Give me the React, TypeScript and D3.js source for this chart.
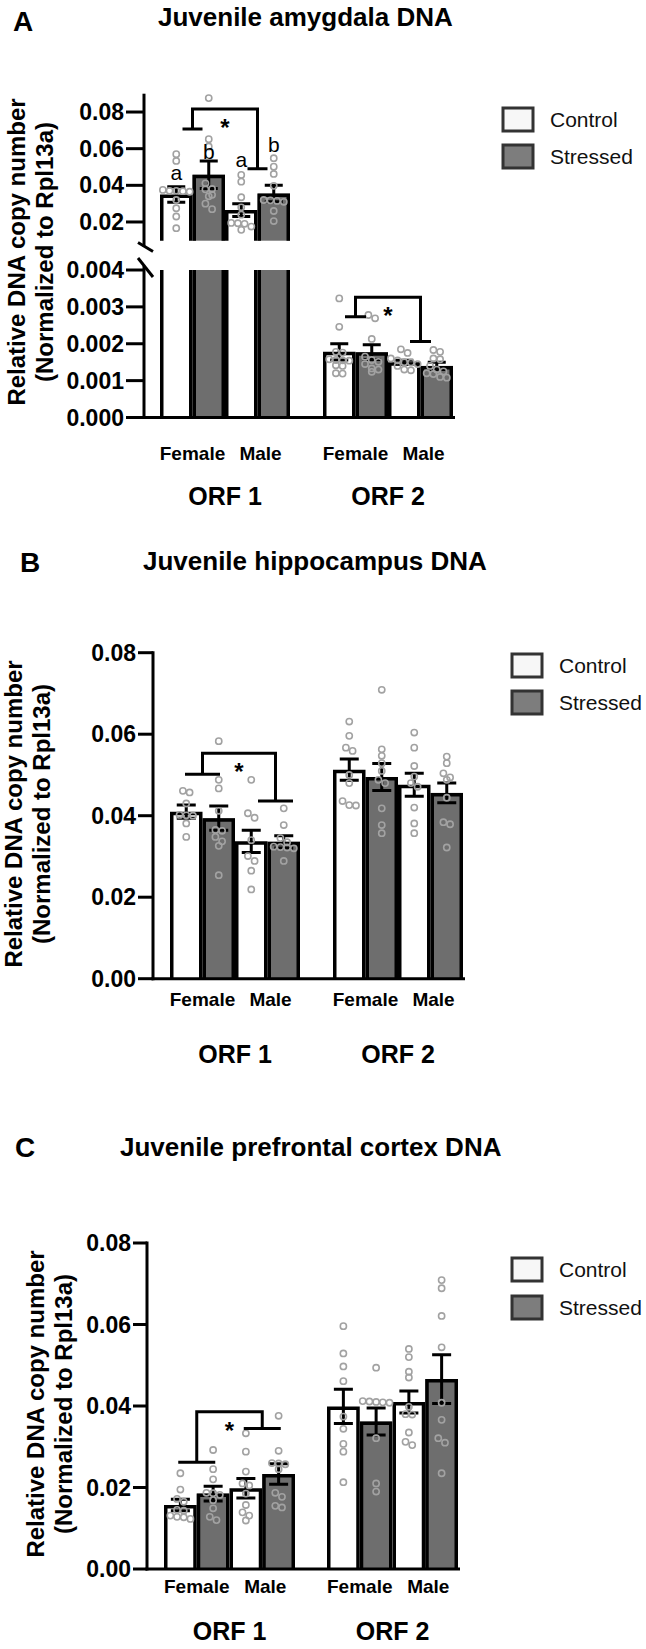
import React from "react";
import * as d3 from "d3";

const FONT = "'Liberation Sans', Arial, Helvetica, sans-serif";

// ---------- shared categories ----------
const orfLabels = ["ORF 1", "ORF 2"];
const sexLabels = ["Female", "Male"];
const conditionLabels = ["Control", "Stressed"];
const barKeys = ["Female-Control", "Female-Stressed", "Male-Control", "Male-Stressed"];
const yAxisTitle = ["Relative DNA copy number", "(Normalized to Rpl13a)"];

// ---------- Panel A: amygdala (order: ORF1 FC, FS, MC, MS, ORF2 FC, FS, MC, MS) ----------
const aTitle = "Juvenile amygdala DNA";
const aMeans = [0.035, 0.0458, 0.0265, 0.0355, 0.00178, 0.00177, 0.0015, 0.0014];
const aSems = [0.0042, 0.0075, 0.0035, 0.0045, 0.00022, 0.0002, 0.00005, 0.0001];
const aPoints = [
  [0.057, 0.0533, 0.0375, 0.037, 0.037, 0.0368, 0.0365, 0.032, 0.0275, 0.023, 0.0166],
  [0.0876, 0.0652, 0.0612, 0.0411, 0.038, 0.0378, 0.0348, 0.034, 0.03, 0.027],
  [0.0457, 0.042, 0.0335, 0.028, 0.024, 0.0195, 0.0193, 0.019, 0.0175, 0.0157],
  [0.0548, 0.0502, 0.0462, 0.0397, 0.032, 0.0318, 0.0315, 0.031, 0.026, 0.0205],
  [0.00323, 0.00246, 0.00178, 0.00176, 0.00158, 0.00156, 0.00155, 0.00154, 0.00142, 0.0014, 0.0012, 0.00119],
  [0.00278, 0.00269, 0.00213, 0.00165, 0.00156, 0.00151, 0.00145, 0.00133, 0.0013, 0.00124],
  [0.00185, 0.00175, 0.0016, 0.00155, 0.0015, 0.00149, 0.00145, 0.0014, 0.0013, 0.00128],
  [0.00183, 0.00178, 0.0016, 0.00158, 0.0014, 0.0013, 0.00125, 0.0012, 0.00118, 0.0011, 0.00108],
];
const aUpperTicks = [0.02, 0.04, 0.06, 0.08];
const aLowerTicks = [0, 0.001, 0.002, 0.003, 0.004];
const aLetters = ["a", "b", "a", "b"];
const aLetterLevels = [0.043, 0.0544, 0.0502, 0.0584];
const aBracketOrf1 = [0.0816, 0.0707, 0.049]; // top, left end, right end
const aBracketOrf2 = [0.00326, 0.00273, 0.00206];

// ---------- Panel B: hippocampus ----------
const bTitle = "Juvenile hippocampus DNA";
const bMeans = [0.041, 0.0394, 0.0337, 0.0336, 0.0513, 0.0495, 0.0476, 0.0456];
const bSems = [0.0016, 0.003, 0.0027, 0.0015, 0.0026, 0.0033, 0.0028, 0.0024];
const bPoints = [
  [0.0461, 0.0457, 0.043, 0.0402, 0.0401, 0.04, 0.0381, 0.0348],
  [0.0583, 0.0488, 0.0467, 0.0412, 0.0365, 0.0363, 0.0348, 0.0337, 0.0326, 0.0254],
  [0.0488, 0.0406, 0.0395, 0.034, 0.0301, 0.0289, 0.0265, 0.0219],
  [0.0418, 0.0377, 0.0345, 0.0335, 0.0324, 0.0323, 0.0322, 0.032, 0.0289],
  [0.0631, 0.0596, 0.0567, 0.0559, 0.05, 0.048, 0.0436, 0.0426, 0.0425],
  [0.0709, 0.0563, 0.0547, 0.0529, 0.051, 0.0488, 0.048, 0.0418, 0.0377, 0.0357],
  [0.0604, 0.0567, 0.0522, 0.0496, 0.048, 0.0471, 0.042, 0.0381, 0.0357],
  [0.0545, 0.0529, 0.0504, 0.0494, 0.0488, 0.0444, 0.0384, 0.0379, 0.0322],
];
const bTicks = [0, 0.02, 0.04, 0.06, 0.08];
const bBracketOrf1 = [0.0553, 0.0502, 0.0436];

// ---------- Panel C: prefrontal cortex ----------
const cTitle = "Juvenile prefrontal cortex DNA";
const cMeans = [0.0157, 0.0185, 0.0198, 0.0233, 0.0399, 0.0362, 0.041, 0.0466];
const cSems = [0.0014, 0.0018, 0.0024, 0.0025, 0.0042, 0.0033, 0.0027, 0.006];
const cPoints = [
  [0.0235, 0.0195, 0.0172, 0.0165, 0.0145, 0.0143, 0.0131, 0.0128, 0.0127, 0.0123],
  [0.0292, 0.0245, 0.022, 0.0187, 0.0186, 0.0182, 0.0169, 0.0149, 0.0128, 0.012],
  [0.0333, 0.0288, 0.0239, 0.021, 0.0205, 0.0185, 0.0157, 0.0139, 0.0131, 0.0119],
  [0.0376, 0.029, 0.026, 0.0259, 0.0257, 0.0245, 0.0187, 0.0177, 0.0155, 0.0151],
  [0.0596, 0.0529, 0.0497, 0.0461, 0.0374, 0.0344, 0.0307, 0.0288, 0.0213],
  [0.0494, 0.0412, 0.0411, 0.041, 0.0409, 0.0408, 0.0321, 0.021, 0.019],
  [0.054, 0.052, 0.0484, 0.047, 0.0398, 0.038, 0.0379, 0.0335, 0.0312, 0.0304],
  [0.0709, 0.0689, 0.0621, 0.0544, 0.0408, 0.0366, 0.0321, 0.031, 0.0235],
];
const cTicks = [0, 0.02, 0.04, 0.06, 0.08];
const cBracketOrf1 = [0.0386, 0.0262, 0.0345];

// ---------- styles ----------
const INK = "#000";
const POINT_STROKE = "#a2a2a2";
const STRESSED_FILL = "#6e6e6e";
const CONTROL_FILL = "#ffffff";
const LEGEND_FILLS = ["#f7f7f7", "#7d7d7d"];
const BAR_SW = 3.5;
const AX_SW = 3;
const DOT_D = 6.7;

type Seg = { top: number; bottom: number; capTop: boolean };

function swarm(values: number[], yFn: (v: number) => number, cx: number, d: number) {
  const pts = values.map((v) => ({ v, y: yFn(v), x: cx })).sort((a, b) => a.y - b.y);
  const rows: any[][] = [];
  let cur: any[] = [];
  pts.forEach((p) => {
    if (cur.length && p.y - cur[0].y >= d * 0.85) {
      rows.push(cur);
      cur = [p];
    } else cur.push(p);
  });
  if (cur.length) rows.push(cur);
  rows.forEach((row) => row.forEach((p, i) => (p.x = cx + (i - (row.length - 1) / 2) * d)));
  return pts;
}

function Panel(props: any) {
  const { L, title, letter, means, sems, points, yFn, ticks, axisSegs, barSegs, brackets, letters, breakMarks, zeroY } = props;
  const W = L.barsEnd - L.barsStart;
  const step = (W + L.groupGap) / 2;
  const orfScale = d3
    .scaleBand<string>()
    .domain(orfLabels)
    .range([L.barsStart, L.barsEnd])
    .paddingInner(L.groupGap / step)
    .paddingOuter(0);
  const barScale = d3.scaleBand<string>().domain(barKeys).range([0, orfScale.bandwidth()]).padding(0);
  const bw = barScale.bandwidth();

  const bars = means.map((m: number, i: number) => {
    const orf = orfLabels[Math.floor(i / 4)];
    const key = barKeys[i % 4];
    const x = (orfScale(orf) as number) + (barScale(key) as number);
    return { i, x, cx: x + bw / 2, m, s: sems[i], stressed: i % 2 === 1, pts: points[i] };
  });

  const hs = BAR_SW / 2;

  return (
    <g fontFamily={FONT}>
      {/* panel letter and title */}
      <text x={L.letterX} y={L.letterY} fontSize={28} fontWeight="bold">{letter}</text>
      <text x={L.titleX} y={L.titleY} fontSize={26} fontWeight="bold">{title}</text>

      {/* bars */}
      {bars.map((b: any) =>
        barSegs(b.m).map((s: Seg, k: number) => {
          const xl = b.x + hs;
          const xr = b.x + bw - hs;
          const d = s.capTop
            ? `M${xl},${s.bottom}V${s.top + hs}H${xr}V${s.bottom}`
            : `M${xl},${s.bottom}V${s.top}M${xr},${s.bottom}V${s.top}`;
          return (
            <g key={`bar${b.i}-${k}`}>
              <rect x={b.x} y={s.top} width={bw} height={s.bottom - s.top} fill={b.stressed ? STRESSED_FILL : CONTROL_FILL} />
              <path d={d} fill="none" stroke={INK} strokeWidth={BAR_SW} strokeLinejoin="miter" />
            </g>
          );
        })
      )}

      {/* error bars */}
      {bars.map((b: any) => {
        const hi = yFn(b.m + b.s);
        const lo = yFn(b.m - b.s);
        const cw = L.capW / 2;
        return (
          <path
            key={`err${b.i}`}
            d={`M${b.cx},${hi}V${lo}M${b.cx - cw},${hi}H${b.cx + cw}M${b.cx - cw},${lo}H${b.cx + cw}`}
            stroke={INK}
            strokeWidth={3}
            fill="none"
          />
        );
      })}

      {/* points */}
      {bars.map((b: any) =>
        swarm(b.pts, yFn, b.cx, DOT_D).map((p: any, j: number) => (
          <circle key={`pt${b.i}-${j}`} cx={p.x} cy={p.y} r={3.1} fill="none" stroke={POINT_STROKE} strokeWidth={1.6} />
        ))
      )}

      {/* axes */}
      {axisSegs.map((s: number[], k: number) => (
        <line key={`ax${k}`} x1={L.axisX} x2={L.axisX} y1={s[0]} y2={s[1]} stroke={INK} strokeWidth={AX_SW} />
      ))}
      <line x1={L.axisX - AX_SW / 2} x2={L.barsEnd + 2} y1={zeroY} y2={zeroY} stroke={INK} strokeWidth={AX_SW} />
      {breakMarks &&
        breakMarks.map((m: number[], k: number) => (
          <line key={`bk${k}`} x1={m[0]} y1={m[1]} x2={m[2]} y2={m[3]} stroke={INK} strokeWidth={AX_SW} />
        ))}
      {ticks.map((t: any, k: number) => {
        const y = t.y;
        return (
          <g key={`tk${k}`}>
            <line x1={L.axisX - L.tickLen} x2={L.axisX} y1={y} y2={y} stroke={INK} strokeWidth={AX_SW} />
            <text x={L.axisX - L.tickLen - 2} y={y} dy="0.35em" textAnchor="end" fontSize={23} fontWeight="bold">
              {t.label}
            </text>
          </g>
        );
      })}

      {/* y axis title */}
      {yAxisTitle.map((t, k) => (
        <text
          key={`yt${k}`}
          transform={`translate(${k === 0 ? L.yTitleX1 : L.yTitleX2},${L.yTitleCY}) rotate(-90)`}
          textAnchor="middle"
          fontSize={24}
          fontWeight="bold"
        >
          {t}
        </text>
      ))}

      {/* x labels */}
      {orfLabels.map((orf) => {
        const x0 = orfScale(orf) as number;
        return (
          <g key={`xl${orf}`}>
            {sexLabels.map((sx, k) => (
              <text key={sx} x={x0 + bw * (2 * k + 1) + (k === 1 ? 3 : 0)} y={L.sexLabelY} textAnchor="middle" fontSize={19} fontWeight="bold">
                {sx}
              </text>
            ))}
            <text x={x0 + orfScale.bandwidth() / 2} y={L.orfLabelY} textAnchor="middle" fontSize={25} fontWeight="bold">
              {orf}
            </text>
          </g>
        );
      })}

      {/* significance brackets */}
      {brackets.map((br: any, k: number) => {
        const x0 = orfScale(orfLabels[br.orf]) as number;
        const lx = x0 + bw;
        const rx = x0 + 3 * bw + (br.rightDx || 0);
        const top = yFn(br.vals[0]);
        const ly = yFn(br.vals[1]);
        const ry = yFn(br.vals[2]);
        const c = br.capW / 2;
        return (
          <g key={`br${k}`}>
            <path
              d={`M${lx},${ly}V${top}H${rx}V${ry}M${lx - c},${ly}H${lx + c}M${rx - c},${ry}H${rx + c}`}
              fill="none"
              stroke={INK}
              strokeWidth={3}
            />
            <text x={(lx + rx) / 2} y={top + 27} textAnchor="middle" fontSize={24} fontWeight="bold">
              *
            </text>
          </g>
        );
      })}

      {/* group letters */}
      {letters &&
        letters.map((l: any, k: number) => (
          <text key={`lt${k}`} x={bars[k].cx} y={yFn(l.level)} textAnchor="middle" fontSize={21}>
            {l.text}
          </text>
        ))}

      {/* legend */}
      {conditionLabels.map((c, k) => {
        const cy = k === 0 ? L.legendY1 : L.legendY2;
        return (
          <g key={`lg${c}`}>
            <rect x={L.legendX} y={cy - 11.5} width={30} height={23} fill={LEGEND_FILLS[k]} stroke="#333" strokeWidth={3} />
            <text x={L.legendX + 47} y={cy + 7.5} fontSize={21} fill="#111">
              {c}
            </text>
          </g>
        );
      })}
    </g>
  );
}

export default function App() {
  // ----- Panel A (broken axis) -----
  const aUpper = d3.scaleLinear().domain([0.01, 0.09]).range([240.3, 93.7]);
  const aLower = d3.scaleLinear().domain([0, 0.004]).range([417.5, 270]);
  const yA = (v: number) => (v >= 0.0095 ? aUpper(v) : aLower(v));
  const fmt2 = d3.format(".2f");
  const fmt3 = d3.format(".3f");
  const aTickObjs = [
    ...aUpperTicks.map((v) => ({ y: aUpper(v), label: fmt2(v) })),
    ...aLowerTicks.map((v) => ({ y: aLower(v), label: fmt3(v) })),
  ];
  const aBarSegs = (m: number): Seg[] =>
    m >= 0.0095
      ? [
          { top: aUpper(m), bottom: aUpper(0.01) + 0.4, capTop: true },
          { top: aLower(0.004), bottom: aLower(0), capTop: false },
        ]
      : [{ top: aLower(m), bottom: aLower(0), capTop: true }];

  const LA = {
    letterX: 13, letterY: 31, titleX: 158, titleY: 26,
    axisX: 144, barsStart: 160, barsEnd: 453, groupGap: 33, tickLen: 18,
    yTitleCY: 252, yTitleX1: 25, yTitleX2: 53,
    sexLabelY: 460, orfLabelY: 505,
    legendX: 503, legendY1: 119.5, legendY2: 156.5, capW: 18,
  };

  // ----- Panel B -----
  const yB = d3.scaleLinear().domain([0, 0.08]).range([978.7, 652.7]);
  const LB = {
    letterX: 20, letterY: 572, titleX: 143, titleY: 570,
    axisX: 153, barsStart: 170, barsEnd: 463, groupGap: 33, tickLen: 15,
    yTitleCY: 814, yTitleX1: 22, yTitleX2: 50,
    sexLabelY: 1006, orfLabelY: 1063,
    legendX: 512, legendY1: 665.5, legendY2: 702.5, capW: 19,
  };

  // ----- Panel C -----
  const yC = d3.scaleLinear().domain([0, 0.08]).range([1569, 1243]);
  const LC = {
    letterX: 15, letterY: 1157, titleX: 120, titleY: 1156,
    axisX: 147, barsStart: 164, barsEnd: 458, groupGap: 32, tickLen: 14,
    yTitleCY: 1404, yTitleX1: 43.5, yTitleX2: 72,
    sexLabelY: 1593, orfLabelY: 1640,
    legendX: 512, legendY1: 1269.5, legendY2: 1307.5, capW: 19,
  };

  const plainSegs = (y: any) => (m: number): Seg[] => [{ top: y(m), bottom: y(0), capTop: true }];

  return (
    <svg
      width={646}
      height={1649}
      viewBox="0 0 646 1649"
      style={{ position: "absolute", left: 0, top: 0, display: "block", background: "#fff" }}
    >
      <rect x={0} y={0} width={646} height={1649} fill="#fff" />
      <Panel
        L={LA}
        title={aTitle}
        letter="A"
        means={aMeans}
        sems={aSems}
        points={aPoints}
        yFn={yA}
        zeroY={aLower(0)}
        ticks={aTickObjs}
        axisSegs={[
          [93.7, 246.5],
          [266, aLower(0) + 1.5],
        ]}
        breakMarks={[
          [138, 242.5, 153, 251.5],
          [138, 258, 153, 277],
        ]}
        barSegs={aBarSegs}
        brackets={[
          { orf: 0, vals: aBracketOrf1, capW: 20 },
          { orf: 1, vals: aBracketOrf2, capW: 21 },
        ]}
        letters={aLetters.map((t, k) => ({ text: t, level: aLetterLevels[k] }))}
      />
      <Panel
        L={LB}
        title={bTitle}
        letter="B"
        means={bMeans}
        sems={bSems}
        points={bPoints}
        yFn={yB}
        zeroY={yB(0)}
        ticks={bTicks.map((v) => ({ y: yB(v), label: fmt2(v) }))}
        axisSegs={[[yB(0.08) - 1.5, yB(0) + 1.5]]}
        barSegs={plainSegs(yB)}
        brackets={[{ orf: 0, vals: bBracketOrf1, capW: 35, rightDx: 8 }]}
      />
      <Panel
        L={LC}
        title={cTitle}
        letter="C"
        means={cMeans}
        sems={cSems}
        points={cPoints}
        yFn={yC}
        zeroY={yC(0)}
        ticks={cTicks.map((v) => ({ y: yC(v), label: fmt2(v) }))}
        axisSegs={[[yC(0.08) - 1.5, yC(0) + 1.5]]}
        barSegs={plainSegs(yC)}
        brackets={[{ orf: 0, vals: cBracketOrf1, capW: 37 }]}
      />
    </svg>
  );
}
